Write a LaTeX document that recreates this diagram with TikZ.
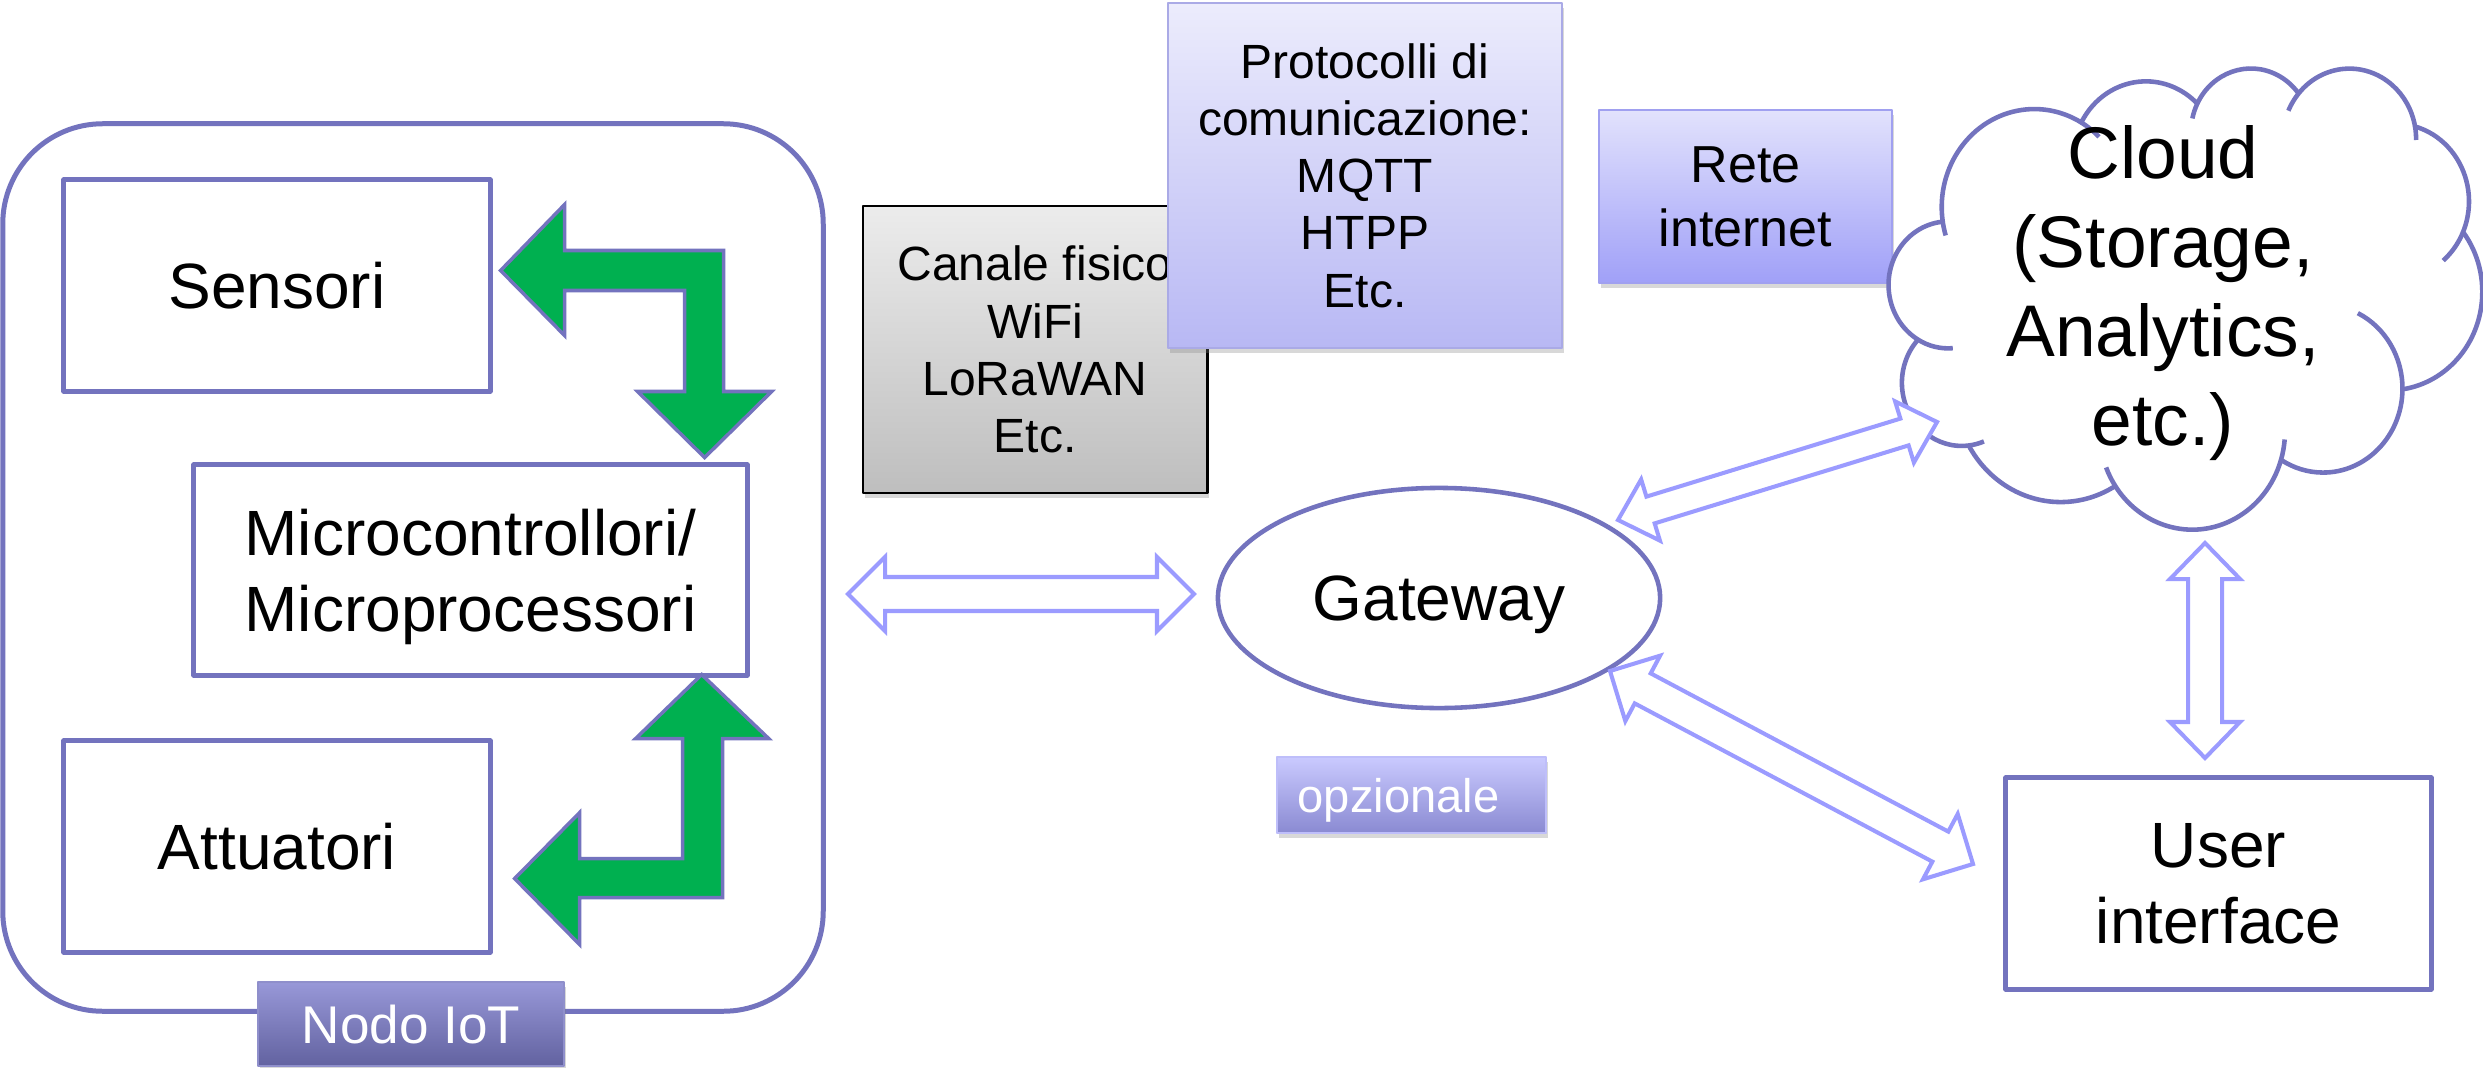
\documentclass[tikz,border=0pt]{standalone}
\usepackage{fontspec}
\setmainfont{Liberation Sans}
\usetikzlibrary{calc,shapes.geometric,shadows}
\definecolor{boxline}{RGB}{115,115,190}
\definecolor{arrline}{RGB}{155,155,255}
\definecolor{pptgreen}{RGB}{0,176,80}

% hollow double arrow: ends, half shaft, half head, head length
\newcommand{\dblarrow}[5]{%
\draw[hollow] (#1) -- ($(#1)!#5!(#2)!#4!90:(#2)$) -- ($(#1)!#5!(#2)!#3!90:(#2)$)
 -- ($(#2)!#5!(#1)!#3!-90:(#1)$) -- ($(#2)!#5!(#1)!#4!-90:(#1)$) -- (#2)
 -- ($(#2)!#5!(#1)!#4!90:(#1)$) -- ($(#2)!#5!(#1)!#3!90:(#1)$)
 -- ($(#1)!#5!(#2)!#3!-90:(#2)$) -- ($(#1)!#5!(#2)!#4!-90:(#2)$) -- cycle;}

\begin{document}
\begin{tikzpicture}[x=0.01cm,y=-0.01cm,line join=round,
  box/.style={draw=boxline,line width=1.42pt,fill=white,inner sep=0pt,align=center,text depth=0pt,font=\fontsize{18.2}{21.6}\selectfont},
  hollow/.style={draw=arrline,line width=1.15pt,fill=white,line join=miter},
  greenarrow/.style={draw=boxline,line width=1pt,fill=pptgreen,line join=miter},
  cloudline/.style={draw=boxline,line width=1.3pt},
  notebox/.style={inner sep=0pt,align=center,font=\fontsize{13.66}{16.3}\selectfont,drop shadow={opacity=.3,shadow xshift=.02cm,shadow yshift=-.05cm}},
  tagbox/.style={inner sep=0pt,text=white,line width=.6pt,text depth=0pt,drop shadow={opacity=.3,shadow xshift=.02cm,shadow yshift=-.05cm}}]
\fill[white] (0,0) rectangle (2483,1067);
\useasboundingbox (0,0) rectangle (2483,1067);

% nodo IoT
\node[box,rounded corners=1cm,minimum width=8.2cm,minimum height=8.87cm] (iot) at (413,567.5) {};
\node[box,minimum width=4.26cm,minimum height=2.11cm] (sens) at (277,285.5) {Sensori};
\node[box,minimum width=5.53cm,minimum height=2.1cm] (micro) at (470.5,570) {Microcontrollori/\\Microprocessori};
\node[box,minimum width=4.26cm,minimum height=2.11cm] (att) at (277,846.5) {Attuatori};
\draw[greenarrow] ($(sens.east)+(8,-15)$) -- ++(64,-66) -- ++(0,46) -- ++(159,0) -- ++(0,141) -- ++(48,0)
  -- ++(-67,66) -- ++(-67,-66) -- ++(47,0) -- ++(0,-101) -- ++(-120,0) -- ++(0,45) -- cycle;
\draw[greenarrow] ($(micro.south east)+(-48,-3)$) -- ++(67,64) -- ++(-46,0) -- ++(0,159) -- ++(-143,0) -- ++(0,47)
  -- ++(-65,-66) -- ++(65,-66) -- ++(0,46) -- ++(103,0) -- ++(0,-120) -- ++(-47,0) -- cycle;
\node[tagbox,draw=boxline!80,top color={rgb,255:red,152;green,152;blue,216},bottom color={rgb,255:red,98;green,98;blue,160},
  minimum width=3.05cm,minimum height=0.84cm,font=\fontsize{15.1}{18}\selectfont] (iotlbl) at (411,1024) {Nodo IoT};

% canali e protocolli
\node[notebox,draw=black,line width=.8pt,top color={rgb,255:red,236;green,236;blue,236},bottom color={rgb,255:red,190;green,190;blue,190},
  minimum width=3.44cm,minimum height=2.87cm] (canale) at (1035,349.5) {Canale fisico\\WiFi\\LoRaWAN\\Etc.};
\node[notebox,draw={rgb,255:red,170;green,170;blue,230},line width=.6pt,top color={rgb,255:red,236;green,236;blue,252},bottom color={rgb,255:red,184;green,184;blue,244},
  minimum width=3.94cm,minimum height=3.45cm] (proto) at (1365,175.5) {Protocolli di\\comunicazione:\\MQTT\\HTPP\\Etc.};
\node[notebox,draw={rgb,255:red,160;green,160;blue,240},line width=.6pt,top color={rgb,255:red,226;green,226;blue,252},bottom color={rgb,255:red,160;green,160;blue,248},
  minimum width=2.93cm,minimum height=1.73cm,font=\fontsize{14.8}{18.2}\selectfont] (rete) at (1745.5,196.5) {Rete\\internet};

% gateway
\node[box,ellipse,line width=1.3pt,minimum width=4.42cm,minimum height=2.2cm] (gw) at (1439,598) {Gateway};
\node[tagbox,draw={rgb,255:red,190;green,190;blue,250},top color={rgb,255:red,202;green,202;blue,255},bottom color={rgb,255:red,138;green,138;blue,210},
  minimum width=2.69cm,minimum height=0.76cm,font=\fontsize{13.4}{16}\selectfont] (opz) at (1411.5,795) {\hspace*{-0.26cm}opzionale};

% cloud
\begin{scope}[shift={(1889,67)},xscale=1.3727,yscale=1.0671]
\draw[cloudline,fill=white] (39,143.7)
  arc[x radius=67.53,y radius=91.90,start angle=-187.75,end angle=-59.63]
  arc[x radius=53.33,y radius=72.67,start angle=-152.02,end angle=-45.45]
  arc[x radius=43.65,y radius=59.45,start angle=-153.49,end angle=-37.32]
  arc[x radius=48.57,y radius=65.95,start angle=-139.71,end angle=-10.21]
  arc[x radius=53.33,y radius=72.73,start angle=-74.77,end angle=23.21]
  arc[x radius=67.75,y radius=92.20,start angle=-37.52,end angle=81.86]
  arc[x radius=57.85,y radius=78.67,start angle=0.46,end angle=121.98]
  arc[x radius=67.52,y radius=92.15,start angle=16.85,end angle=146.23]
  arc[x radius=77.20,y radius=105.43,start angle=58.99,end angle=150.19]
  arc[x radius=43.60,y radius=59.18,start angle=83.31,end angle=223.09]
  arc[x radius=43.45,y radius=59.45,start angle=120.36,end angle=264.11] -- cycle;
\draw[cloudline] (105.91,131.31) ++(-59.63:67.53 and 91.90) arc[x radius=67.53,y radius=91.90,start angle=-59.63,end angle=-45.77];
\draw[cloudline] (263.63,60.86) ++(-167.73:43.65 and 59.45) arc[x radius=43.65,y radius=59.45,start angle=-167.73,end angle=-153.49];
\draw[cloudline] (335.39,67.47) ++(-156.29:48.57 and 65.95) arc[x radius=48.57,y radius=65.95,start angle=-156.29,end angle=-139.71];
\draw[cloudline] (335.39,67.47) ++(-10.21:48.57 and 65.95) arc[x radius=48.57,y radius=65.95,start angle=-10.21,end angle=0.82];
\draw[cloudline] (369.18,125.96) ++(23.21:53.33 and 72.73) arc[x radius=53.33,y radius=72.73,start angle=23.21,end angle=49.65];
\draw[cloudline] (316.19,301.40) ++(-64.03:57.85 and 78.67) arc[x radius=57.85,y radius=78.67,start angle=-64.03,end angle=0.46];
\draw[cloudline] (220.94,341.43) ++(4.74:67.52 and 92.15) arc[x radius=67.52,y radius=92.15,start angle=4.74,end angle=16.85];
\draw[cloudline] (220.94,341.43) ++(146.23:67.52 and 92.15) arc[x radius=67.52,y radius=92.15,start angle=146.23,end angle=158.47];
\draw[cloudline] (52.96,295.94) ++(68.24:43.60 and 59.18) arc[x radius=43.60,y radius=59.18,start angle=68.24,end angle=83.31];
\draw[cloudline] (43.07,204.24) ++(85.55:43.45 and 59.45) arc[x radius=43.45,y radius=59.45,start angle=85.55,end angle=120.36];
\draw[cloudline] (105.91,131.31) ++(163.20:67.53 and 91.90) arc[x radius=67.53,y radius=91.90,start angle=163.20,end angle=172.25];
\end{scope}
\node[align=center,font=\fontsize{20.8}{25.3}\selectfont] (cloud) at (2163,293) {Cloud\\(Storage,\\Analytics,\\etc.)};

% user interface
\node[box,minimum width=4.25cm,minimum height=2.11cm] (ui) at (2218.5,883.5) {User\\interface};

% frecce
\coordinate (iotR) at (848,594);
\coordinate (gwL) at (1194,594);
\coordinate (gwNE) at (1618,520);
\coordinate (cldSW) at (1937,422);
\coordinate (gwSE) at (1610,671);
\coordinate (uiW) at (1973,864);
\coordinate (cldS) at (2205,543);
\coordinate (uiN) at (2205,758);
\dblarrow{iotR}{gwL}{0.17cm}{0.37cm}{0.37cm}
\dblarrow{gwNE}{cldSW}{0.14cm}{0.32cm}{0.34cm}
\dblarrow{gwSE}{uiW}{0.17cm}{0.37cm}{0.37cm}
\dblarrow{cldS}{uiN}{0.17cm}{0.35cm}{0.36cm}
\end{tikzpicture}
\end{document}
